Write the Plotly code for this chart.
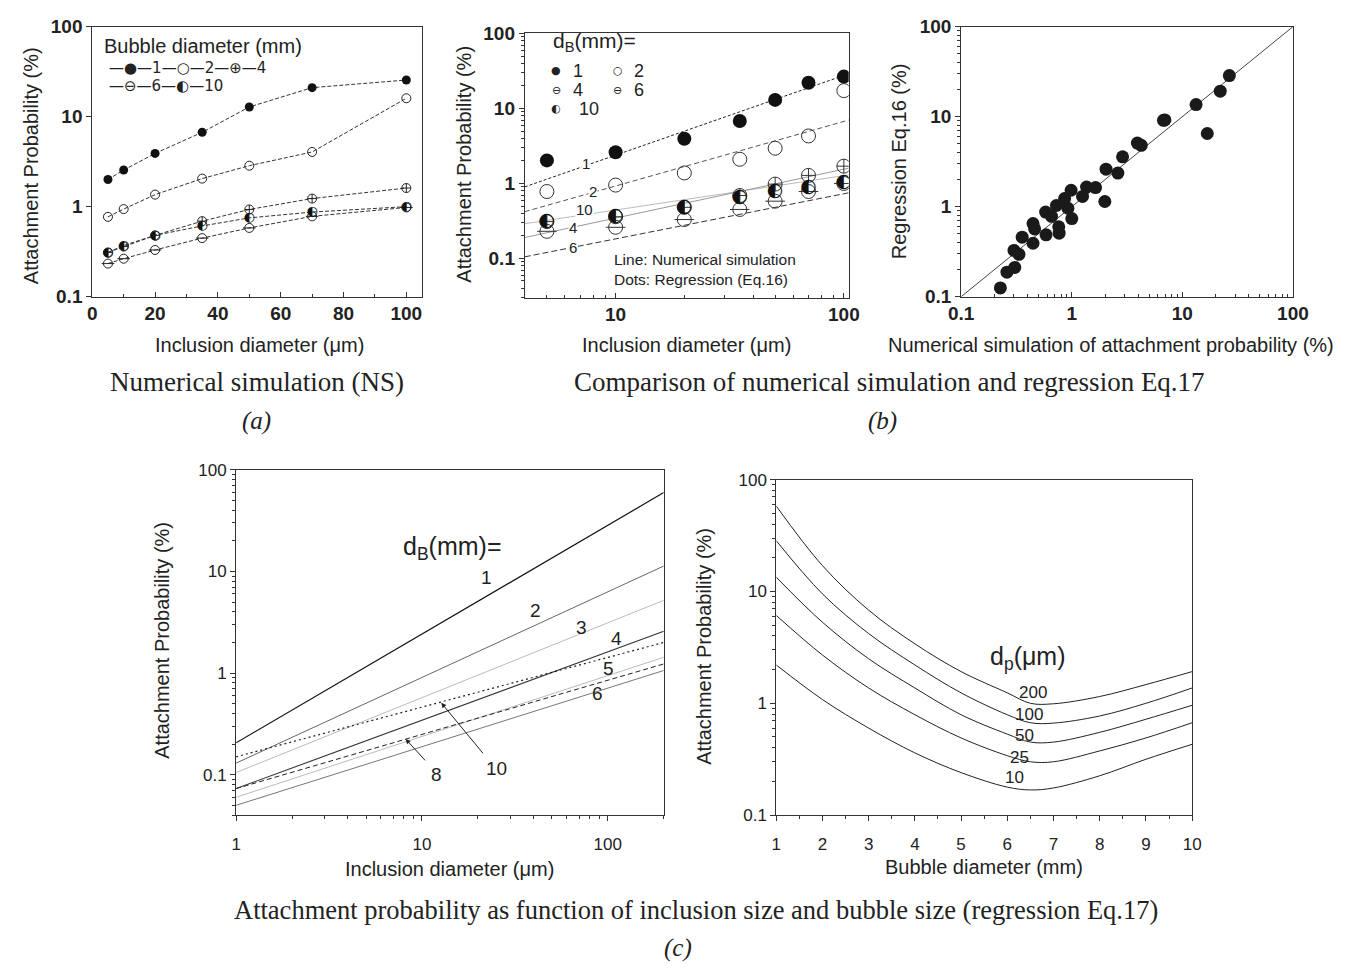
import numpy as np
import plotly.graph_objects as go

W, H = 1352, 968

# ---------------- data: panel (a) numerical simulation ----------------
incl_a = [5, 10, 20, 35, 50, 70, 100]
ns_db1 = [2.0, 2.55, 3.9, 6.7, 12.8, 21.0, 25.5]
ns_db2 = [0.77, 0.94, 1.36, 2.05, 2.85, 4.05, 16.0]
ns_db4 = [0.31, 0.36, 0.48, 0.69, 0.93, 1.23, 1.61]
ns_db6 = [0.233, 0.264, 0.33, 0.447, 0.58, 0.78, 0.98]
ns_db10 = [0.31, 0.37, 0.48, 0.61, 0.75, 0.87, 1.0]

# ---------------- data: panel (b) left, regression dots & simulation lines ----------------
incl_b = [5, 10, 20, 35, 50, 70, 100]
reg_db1 = [2.03, 2.6, 3.95, 6.8, 13.0, 22.0, 26.6]
reg_db2 = [0.78, 0.95, 1.38, 2.1, 2.95, 4.3, 17.3]
reg_db4 = [0.31, 0.36, 0.48, 0.69, 0.98, 1.28, 1.7]
reg_db6 = [0.23, 0.26, 0.33, 0.45, 0.58, 0.78, 1.0]
reg_db10 = [0.31, 0.37, 0.48, 0.65, 0.78, 0.88, 1.03]
line_x_b = [4, 105]
line_b_db1 = [0.9, 29.0]
line_b_db2 = [0.42, 7.0]
line_b_db10 = [0.29, 1.3]
line_b_db4 = [0.19, 1.6]
line_b_db6 = [0.105, 0.75]

# ---------------- data: panel (b) right, parity plot ----------------
ns_pts = [0.226, 0.259, 0.305, 0.30, 0.333, 0.356, 0.446, 0.446, 0.461, 0.585,
          0.58, 0.656, 0.726, 0.762, 0.768, 0.861, 0.922, 0.986, 1.0, 1.25,
          1.36, 1.64, 1.99, 2.04, 2.61, 2.88, 3.92, 4.25, 6.75, 6.95,
          13.3, 16.8, 22.0, 26.6]
reg_pts = [0.125, 0.187, 0.211, 0.326, 0.295, 0.458, 0.392, 0.65, 0.565, 0.486,
           0.871, 0.781, 1.03, 0.598, 0.507, 1.23, 0.96, 1.52, 0.736, 1.30,
           1.65, 1.63, 1.14, 2.61, 2.36, 3.58, 5.08, 4.8, 9.1, 9.2,
           13.6, 6.5, 19.2, 28.6]
diag = [0.1, 100]

# ---------------- data: panel (c) left, regression vs inclusion size ----------------
incl_c = [1, 200]
c_db1 = [0.206, 59.7]
c_db2 = [0.13, 11.3]
c_db3 = [0.105, 5.2]
c_db4 = [0.073, 2.58]
c_db5 = [0.06, 1.43]
c_db6 = [0.05, 1.06]
c_db8 = [0.073, 1.23]
c_db10 = [0.15, 2.0]

# ---------------- data: panel (c) right, regression vs bubble size ----------------
bubble_c = [1, 2, 3, 4, 5, 6, 6.5, 7, 8, 9, 10]
dp10 = [2.2, 1.08, 0.60, 0.36, 0.24, 0.178, 0.168, 0.175, 0.225, 0.316, 0.43]
dp25 = [6.1, 2.7, 1.37, 0.79, 0.49, 0.34, 0.30, 0.30, 0.375, 0.49, 0.67]
dp50 = [13.4, 5.3, 2.5, 1.37, 0.79, 0.53, 0.45, 0.45, 0.55, 0.72, 0.96]
dp100 = [28.4, 9.5, 4.2, 2.2, 1.24, 0.79, 0.67, 0.665, 0.77, 1.0, 1.37]
dp200 = [58, 17, 6.8, 3.4, 1.92, 1.24, 1.0, 0.99, 1.15, 1.47, 1.92]

# ---------------------------------------------------------------------------
def px(x):
    return x / W


def py(y):
    return 1 - y / H


SANS = "Liberation Sans, Arial, sans-serif"
SERIF = "Liberation Serif, Times New Roman, serif"
SYM = "DejaVu Sans"
LC = "#333"

fig = go.Figure()


def decade_minors(lo, hi):
    out = []
    e = int(np.floor(np.log10(lo)))
    while 10 ** e <= hi:
        for m in range(2, 10):
            v = m * 10 ** e
            if lo <= v <= hi:
                out.append(v)
        e += 1
    return out


def axis(domain, anchor, rng, typ="linear", tickvals=None, ticktext=None,
         minor=None, ticks="outside", fsize=19, bold=True, standoff=None):
    d = dict(domain=domain, anchor=anchor, range=rng, type=typ,
             showline=True, linecolor=LC, linewidth=1, mirror=True,
             showgrid=False, zeroline=False, ticks=ticks, ticklen=5,
             tickcolor=LC, tickwidth=1,
             tickfont=dict(family=SANS, size=fsize, color="#222",
                           weight="bold" if bold else "normal"))
    if standoff is not None:
        d["ticklabelstandoff"] = standoff
    if tickvals is not None:
        d["tickmode"] = "array"
        d["tickvals"] = tickvals
        d["ticktext"] = ticktext if ticktext else [str(v) for v in tickvals]
    if minor is not None:
        d["minor"] = dict(tickmode="array", tickvals=minor, ticks=ticks,
                          ticklen=3, tickcolor=LC, tickwidth=1)
    return d


logt = [0.1, 1, 10, 100]
logtt = ["0.1", "1", "10", "100"]

# domains
A_X = [px(81), px(418)]
A_Y = [py(293), py(17)]
B_X = [px(523), px(854)]
B_Y = [py(294), py(24)]
R_X = [px(969), px(1308)]
R_Y = [py(293), py(17)]
C_X = [px(228), px(665)]
C_Y = [py(823), py(470)]
D_X = [px(780), px(1205)]
D_Y = [py(823), py(480)]

fig.update_layout(
    xaxis=axis(A_X, "y", [0, 105], tickvals=[0, 20, 40, 60, 80, 100],
               minor=[10, 30, 50, 70, 90], ticks="inside"),
    yaxis=axis(A_Y, "x", [-1, 2], "log", logt, logtt),
    xaxis2=axis(B_X, "y2", [np.log10(4), np.log10(105)], "log", [10, 100],
                ["10", "100"], minor=decade_minors(4, 105), ticks="inside"),
    yaxis2=axis(B_Y, "x2", [np.log10(0.03), 2], "log", logt, logtt,
                minor=decade_minors(0.03, 100)),
    xaxis3=axis(R_X, "y3", [-1, 2], "log", logt, logtt,
                minor=decade_minors(0.1, 100), ticks="inside"),
    yaxis3=axis(R_Y, "x3", [-1, 2], "log", logt, logtt,
                minor=decade_minors(0.1, 100)),
    xaxis4=axis(C_X, "y4", [0, np.log10(200)], "log", [1, 10, 100],
                ["1", "10", "100"], minor=decade_minors(1, 200), fsize=17,
                bold=False, standoff=8),
    yaxis4=axis(C_Y, "x4", [np.log10(0.04), 2], "log", logt, logtt,
                minor=decade_minors(0.04, 100), fsize=17, bold=False),
    xaxis5=axis(D_X, "y5", [1, 10], "linear", list(range(1, 11)),
                minor=[i + 0.5 for i in range(1, 10)], fsize=17, bold=False,
                standoff=8),
    yaxis5=axis(D_Y, "x5", [-1, 2], "log", logt, logtt,
                minor=decade_minors(0.1, 100), fsize=17, bold=False),
)

# ---------------- panel (a) traces ----------------
line_a = dict(color=LC, width=1, dash="4px,2px")
ms = 9
fig.add_trace(go.Scatter(x=incl_a, y=ns_db1, mode="lines+markers", line=line_a,
                         marker=dict(symbol="circle", size=ms, color="#111"),
                         xaxis="x", yaxis="y"))
fig.add_trace(go.Scatter(x=incl_a, y=ns_db2, mode="lines+markers", line=line_a,
                         marker=dict(symbol="circle-open", size=ms, color="#222",
                                     line=dict(width=1)), xaxis="x", yaxis="y"))
fig.add_trace(go.Scatter(x=incl_a, y=ns_db4, mode="lines+markers", line=line_a,
                         marker=dict(symbol="circle-cross-open", size=ms,
                                     color="#222", line=dict(width=1)),
                         xaxis="x", yaxis="y"))
fig.add_trace(go.Scatter(x=incl_a, y=ns_db6, mode="lines+markers", line=line_a,
                         marker=dict(symbol="circle-open", size=ms, color="#222",
                                     line=dict(width=1)), xaxis="x", yaxis="y"))
fig.add_trace(go.Scatter(x=incl_a, y=ns_db6, mode="markers",
                         marker=dict(symbol="line-ew-open", size=ms, color="#222",
                                     line=dict(width=1)), xaxis="x", yaxis="y"))
fig.add_trace(go.Scatter(x=incl_a, y=ns_db10, mode="lines+text", line=line_a,
                         text=["◐"] * len(incl_a), textposition="middle center",
                         textfont=dict(family=SYM, size=13, color="#111"),
                         xaxis="x", yaxis="y"))

# ---------------- panel (b) left traces ----------------
fig.add_trace(go.Scatter(x=line_x_b, y=line_b_db1, mode="lines",
                         line=dict(color="#222", width=1, dash="3px,2px"),
                         xaxis="x2", yaxis="y2"))
fig.add_trace(go.Scatter(x=line_x_b, y=line_b_db2, mode="lines",
                         line=dict(color="#555", width=1, dash="5px,3px"),
                         xaxis="x2", yaxis="y2"))
fig.add_trace(go.Scatter(x=line_x_b, y=line_b_db10, mode="lines",
                         line=dict(color="#bbb", width=1),
                         xaxis="x2", yaxis="y2"))
fig.add_trace(go.Scatter(x=line_x_b, y=line_b_db4, mode="lines",
                         line=dict(color="#999", width=1),
                         xaxis="x2", yaxis="y2"))
fig.add_trace(go.Scatter(x=line_x_b, y=line_b_db6, mode="lines",
                         line=dict(color="#333", width=1, dash="6px,3px"),
                         xaxis="x2", yaxis="y2"))
mb = 14
fig.add_trace(go.Scatter(x=incl_b, y=reg_db6, mode="markers",
                         marker=dict(symbol="circle-open", size=mb, color="#333",
                                     line=dict(width=1)), xaxis="x2", yaxis="y2"))
fig.add_trace(go.Scatter(x=incl_b, y=reg_db6, mode="markers",
                         marker=dict(symbol="line-ew-open", size=mb, color="#333",
                                     line=dict(width=1)), xaxis="x2", yaxis="y2"))
fig.add_trace(go.Scatter(x=incl_b, y=reg_db4, mode="markers",
                         marker=dict(symbol="circle-cross-open", size=mb,
                                     color="#333", line=dict(width=1)),
                         xaxis="x2", yaxis="y2"))
fig.add_trace(go.Scatter(x=incl_b, y=reg_db10, mode="text",
                         text=["◐"] * len(incl_b), textposition="middle center",
                         textfont=dict(family=SYM, size=19, color="#111"),
                         xaxis="x2", yaxis="y2"))
fig.add_trace(go.Scatter(x=incl_b, y=reg_db2, mode="markers",
                         marker=dict(symbol="circle-open", size=mb, color="#333",
                                     line=dict(width=1)), xaxis="x2", yaxis="y2"))
fig.add_trace(go.Scatter(x=incl_b, y=reg_db1, mode="markers",
                         marker=dict(symbol="circle", size=mb, color="#111"),
                         xaxis="x2", yaxis="y2"))

# ---------------- panel (b) right traces ----------------
fig.add_trace(go.Scatter(x=diag, y=diag, mode="lines",
                         line=dict(color="#444", width=1),
                         xaxis="x3", yaxis="y3"))
fig.add_trace(go.Scatter(x=ns_pts, y=reg_pts, mode="markers",
                         marker=dict(symbol="circle", size=13, color="#1a1a1a"),
                         xaxis="x3", yaxis="y3"))

# ---------------- panel (c) left traces ----------------
c_lines = [
    (c_db1, dict(color="#111", width=1.2)),
    (c_db2, dict(color="#666", width=1)),
    (c_db3, dict(color="#bbb", width=1)),
    (c_db4, dict(color="#333", width=1.1)),
    (c_db5, dict(color="#bbb", width=1)),
    (c_db6, dict(color="#777", width=1)),
    (c_db8, dict(color="#222", width=1, dash="5px,3px")),
    (c_db10, dict(color="#222", width=1.2, dash="2px,3px")),
]
for yv, ln in c_lines:
    fig.add_trace(go.Scatter(x=incl_c, y=yv, mode="lines", line=ln,
                             xaxis="x4", yaxis="y4"))

# ---------------- panel (c) right traces ----------------
for yv in [dp200, dp100, dp50, dp25, dp10]:
    fig.add_trace(go.Scatter(x=bubble_c, y=yv, mode="lines",
                             line=dict(color="#222", width=1, shape="spline",
                                       smoothing=1.0),
                             xaxis="x5", yaxis="y5"))

# ---------------- annotations ----------------
ann = []


def ptext(text, x, y, size=20, family=SANS, xanchor="center", angle=0,
          color="#222", yanchor="middle"):
    ann.append(dict(text=text, x=px(x), y=py(y), xref="paper", yref="paper",
                    showarrow=False, xanchor=xanchor, yanchor=yanchor,
                    textangle=angle, font=dict(family=family, size=size,
                                               color=color)))


def dtext(text, x, y, xr, yr, size=15, family=SANS, bg=None, xanchor="center"):
    d = dict(text=text, x=x, y=y, xref=xr, yref=yr, showarrow=False,
             xanchor=xanchor, yanchor="middle",
             font=dict(family=family, size=size, color="#222"))
    if bg:
        d["bgcolor"] = bg
        d["borderpad"] = 0
    ann.append(d)


# axis titles
ptext("Inclusion diameter (μm)", 252, 342)
ptext("Attachment Probability (%)", 18, 159, angle=-90)
ptext("Inclusion diameter (μm)", 688, 342)
ptext("Attachment Probability (%)", 460, 158, angle=-90)
ptext("Numerical simulation of attachment probability (%)", 1122, 342)
ptext("Regression Eq.16 (%)", 905, 155, angle=-90)
ptext("Inclusion diameter (μm)", 446, 878)
ptext("Attachment Probability (%)", 152, 644, angle=-90)
ptext("Bubble diameter (mm)", 992, 876)
ptext("Attachment Probability (%)", 706, 650, angle=-90)

# captions
ptext("Numerical simulation (NS)", 249, 380, size=27, family=SERIF)
ptext("<i>(a)</i>", 249, 420, size=25, family=SERIF)
ptext("Comparison of numerical simulation and regression Eq.17", 896, 380,
      size=27, family=SERIF)
ptext("<i>(b)</i>", 889, 420, size=25, family=SERIF)
ptext("Attachment probability as function of inclusion size and bubble size "
      "(regression Eq.17)", 698, 920, size=26.5, family=SERIF)
ptext("<i>(c)</i>", 680, 959, size=25, family=SERIF)

# legend (a)
ptext("Bubble diameter (mm)", 91, 37, xanchor="left", size=20)
ptext("—●—1—○—2—⊕—4", 96, 59, xanchor="left", size=15, family=SYM)
ptext("—⊖—6—◐—10", 96, 78, xanchor="left", size=15, family=SYM)

# legend (b)
ptext("d<sub>B</sub>(mm)=", 550, 33, xanchor="left", size=21)
ptext("●", 555, 62, size=11, family=SYM)
ptext("1", 570, 62, size=18, xanchor="left")
ptext("○", 618, 62, size=11, family=SYM)
ptext("2", 633, 62, size=18, xanchor="left")
ptext("⊖", 555, 82, size=11, family=SYM)
ptext("4", 570, 82, size=18, xanchor="left")
ptext("⊖", 618, 82, size=11, family=SYM)
ptext("6", 633, 82, size=18, xanchor="left")
ptext("◐", 555, 101, size=11, family=SYM)
ptext("10", 576, 101, size=18, xanchor="left")
ptext("Line: Numerical simulation", 612, 255, xanchor="left", size=15.5)
ptext("Dots: Regression (Eq.16)", 612, 275, xanchor="left", size=15.5)

# line labels (b)
for t, xv, yv in [("1", 7.4, 1.86), ("2", 8.0, 0.78), ("10", 7.3, 0.45),
                  ("4", 6.5, 0.26), ("6", 6.5, 0.14)]:
    dtext(t, np.log10(xv), np.log10(yv), "x2", "y2", size=15, bg="white")

# line labels (c) left
dtext("d<sub>B</sub>(mm)=", np.log10(14.6), np.log10(17), "x4", "y4", size=25)
for t, xv, yv in [("1", 22.3, 8.7), ("2", 40.9, 4.1), ("3", 71.9, 2.78),
                  ("4", 112, 2.18), ("5", 101, 1.12), ("6", 88, 0.635),
                  ("8", 12, 0.1), ("10", 25.2, 0.116)]:
    dtext(t, np.log10(xv), np.log10(yv), "x4", "y4", size=19)
# arrows (c) left
ann.append(dict(x=np.log10(12.7), y=np.log10(0.51), xref="x4", yref="y4",
                ax=43, ay=52, showarrow=True, arrowhead=2, arrowsize=1,
                arrowwidth=1, arrowcolor="#222", text=""))
ann.append(dict(x=np.log10(8.16), y=np.log10(0.225), xref="x4", yref="y4",
                ax=21, ay=23, showarrow=True, arrowhead=2, arrowsize=1,
                arrowwidth=1, arrowcolor="#222", text=""))

# labels (c) right
dtext("d<sub>p</sub>(μm)", 6.45, np.log10(2.52), "x5", "y5", size=25)
for t, xv, yv in [("200", 6.56, 1.25), ("100", 6.47, 0.80), ("50", 6.38, 0.52),
                  ("25", 6.27, 0.33), ("10", 6.16, 0.217)]:
    dtext(t, xv, np.log10(yv), "x5", "y5", size=17)

fig.update_layout(
    width=W, height=H, margin=dict(l=0, r=0, t=0, b=0),
    paper_bgcolor="white", plot_bgcolor="white", showlegend=False,
    annotations=ann, font=dict(family=SANS, color="#222"),
)

fig.write_html("out.html")
